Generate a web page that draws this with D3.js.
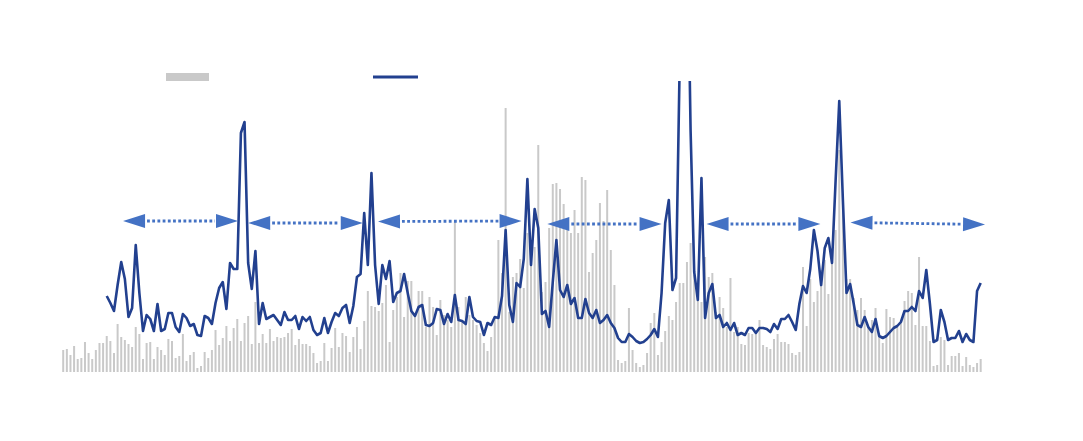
<!DOCTYPE html>
<html><head><meta charset="utf-8">
<script src="https://cdn.jsdelivr.net/npm/d3@7/dist/d3.min.js"></script>
<style>html,body{margin:0;padding:0;background:#fff;} svg{display:block;}</style>
</head><body>
<script>
// weekly bar series (gray)
const barValues = [
22,23,17,26,13,14,30,19,13,22,29,29,36,31,19,48,35,32,28,25,45,38,13,29,30,13,25,22,17,33,31,14,16,38,11,17,20,4,6,20,14,22,42,
27,34,46,31,44,53,31,49,56,28,70,29,38,29,43,31,35,34,35,39,43,27,33,28,28,26,19,9,11,29,11,24,44,25,39,36,20,35,45,23,51,81,66,
65,61,69,87,30,62,75,99,55,91,91,55,81,81,45,75,65,37,72,57,52,45,150,65,52,75,57,52,47,39,29,21,35,55,132,99,
264,60,95,99,113,84,139,110,125,227,80,90,144,
188,189,183,168,142,139,162,139,195,192,100,119,132,169,151,182,122,87,
12,9,11,64,22,9,5,7,19,49,59,17,30,41,56,52,70,89,89,110,129,97,80,70,115,95,99,60,75,64,45,94,40,45,28,27,39,
38,38,52,27,25,23,33,38,30,30,28,19,17,
20,105,46,93,70,81,102,112,78,119,142,222,178,93,93,74,62,74,62,44,52,64,39,29,63,55,54,45,50,71,81,79,47,115,46,46,31,6,7,35,32,7,16,16,19,6,15,7,5,9,13
];
// line series (blue), starts at week index 12
const lineStartIndex = 12;
const lineValues = [
76,69,61,87,110,93,55,64,127,79,
41,57,53,41,68,41,43,59,59,45,
40,58,54,46,48,37,36,56,54,48,
69,84,90,63,109,103,103,239,250,109,
83,121,48,69,53,55,57,52,47,60,
52,52,56,43,55,51,55,42,37,39,
54,39,50,59,56,64,67,49,66,95,
98,159,107,199,107,68,107,93,111,70,
79,81,98,79,61,56,65,67,47,46,
49,63,62,48,58,50,77,52,51,48,
75,55,51,50,37,49,47,55,54,76,
142,67,50,89,85,113,193,107,163,144,
58,61,45,90,132,82,75,87,68,74,
54,54,73,59,54,62,49,52,57,49,
44,34,30,30,38,35,31,29,30,33,
37,43,35,79,149,172,82,94,310,522,
472,242,100,72,194,54,79,88,54,57,
45,49,42,49,37,39,37,44,44,39,
44,44,43,40,48,43,53,53,57,50,
42,68,86,79,103,142,121,87,124,134,
109,192,271,172,79,88,68,47,45,55,
45,40,53,36,34,36,40,44,46,50,
61,61,65,61,81,74,102,68,30,32,
62,50,32,34,34,41,30,38,32,30,
81,89
];
// period arrows (in week-index units and value units)
const arrowStart = [16.5, 51.0, 86.8, 133.5, 177.4, 217.1];
const arrowEnd   = [48.2, 82.6, 126.4, 165.0, 208.8, 254.2];
const arrowStartLevel = [151, 149, 150.5, 148, 148, 149.5];
const arrowEndLevel   = [151, 149, 151, 148, 148, 147.5];

const W = 1083, H = 441;
const svg = d3.select("body").append("svg").attr("width", W).attr("height", H)
  .style("background", "#fff");

const n = barValues.length;
const x = d3.scaleBand().domain(d3.range(n)).range([61.4, 982.5])
  .paddingInner(0.45).paddingOuter(0.225);
const xc = i => x(i) + x.bandwidth() / 2;
const xLin = d3.scaleLinear().domain([0, n - 1]).range([xc(0), xc(n - 1)]);
const y = d3.scaleLinear().domain([0, 291]).range([372, 81]);

svg.append("defs").append("clipPath").attr("id", "plotclip")
  .append("rect").attr("x", 0).attr("y", y(291)).attr("width", W).attr("height", y(0) - y(291) + 20);

// bars
svg.append("g").selectAll("rect").data(barValues).join("rect")
  .attr("x", (d, i) => x(i))
  .attr("width", x.bandwidth())
  .attr("y", d => y(d))
  .attr("height", d => y(0) - y(d))
  .attr("fill", "#c9c9c9");

// line
const line = d3.line().x((d, k) => xc(k + lineStartIndex)).y(d => y(d));
svg.append("path").datum(lineValues)
  .attr("clip-path", "url(#plotclip)")
  .attr("d", line)
  .attr("fill", "none")
  .attr("stroke", "#22408f")
  .attr("stroke-width", 2.6)
  .attr("stroke-linejoin", "round");

// arrows
const arrowColor = "#4472c4";
const headLen = 22, headHalf = 7;
const ag = svg.append("g");
arrowStart.forEach((s, k) => {
  const x1 = xLin(s), y1 = y(arrowStartLevel[k]);
  const x2 = xLin(arrowEnd[k]), y2 = y(arrowEndLevel[k]);
  const dx = x2 - x1, dy = y2 - y1, len = Math.hypot(dx, dy);
  const ux = dx / len, uy = dy / len, px = -uy, py = ux;
  const b1x = x1 + ux * headLen, b1y = y1 + uy * headLen;
  const b2x = x2 - ux * headLen, b2y = y2 - uy * headLen;
  ag.append("line")
    .attr("x1", b1x + ux * 2).attr("y1", b1y + uy * 2)
    .attr("x2", b2x - ux * 1).attr("y2", b2y - uy * 1)
    .attr("stroke", arrowColor).attr("stroke-width", 2.8)
    .attr("stroke-dasharray", "2.8,2.4");
  ag.append("path")
    .attr("d", `M${x1},${y1}L${b1x + px * headHalf},${b1y + py * headHalf}L${b1x - px * headHalf},${b1y - py * headHalf}Z`)
    .attr("fill", arrowColor);
  ag.append("path")
    .attr("d", `M${x2},${y2}L${b2x + px * headHalf},${b2y + py * headHalf}L${b2x - px * headHalf},${b2y - py * headHalf}Z`)
    .attr("fill", arrowColor);
});

// legend (no labels)
const lg = svg.append("g");
lg.append("rect").attr("x", 166).attr("y", 73).attr("width", 43).attr("height", 8).attr("fill", "#c9c9c9");
lg.append("line").attr("x1", 373).attr("x2", 418).attr("y1", 77).attr("y2", 77)
  .attr("stroke", "#22408f").attr("stroke-width", 2.8);
</script>
</body></html>
